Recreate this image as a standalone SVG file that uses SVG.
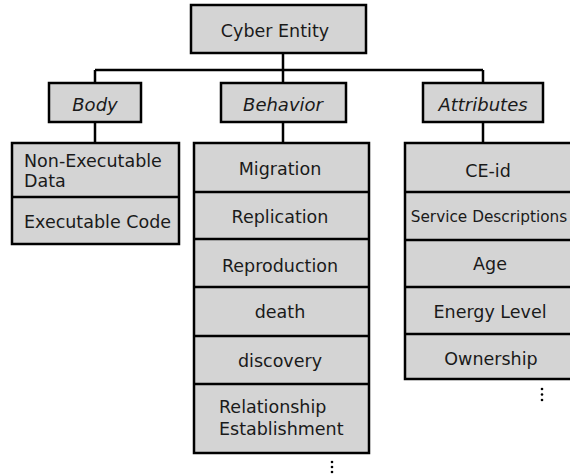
<svg xmlns="http://www.w3.org/2000/svg" width="570" height="475" viewBox="0 0 570 475">
<style>
.box{fill:#d4d4d4;stroke:#000;stroke-width:2.5}
.div{stroke:#000;stroke-width:2.5}
.con{stroke:#000;stroke-width:2.5;fill:none}
text{font-family:"DejaVu Sans","Liberation Sans",sans-serif;fill:#1a1a1a}
.t{font-size:17.5px;text-anchor:middle}
.h{font-size:18px;font-style:italic;text-anchor:middle}
.l{font-size:17.5px;text-anchor:middle}
.b{font-size:17.5px}
.dot{fill:#000}
</style>
<rect width="570" height="475" fill="#fff"/>
<g id="connectors">
<path class="con" d="M283,53V70M95,70H483M95,70V83M283,70V83M483,70V83M95,122V143M283,122V143M483,122V143"/>
</g>
<g id="cyber-entity">
<rect class="box" x="191" y="5" width="175" height="48"/>
<text class="t" x="275" y="37">Cyber Entity</text>
</g>
<g id="body">
<rect class="box" x="49" y="83" width="92" height="39"/>
<text class="h" x="95" y="111">Body</text>
</g>
<g id="behavior">
<rect class="box" x="221" y="83" width="125" height="39"/>
<text class="h" x="283" y="111">Behavior</text>
</g>
<g id="attributes">
<rect class="box" x="423" y="83" width="120" height="39"/>
<text class="h" x="483" y="111">Attributes</text>
</g>
<g id="body-list">
<rect class="box" x="12" y="143" width="167" height="101"/>
<line class="div" x1="12" y1="197" x2="179" y2="197"/>
<text class="b" x="24" y="167">Non-Executable</text>
<text class="b" x="24" y="187">Data</text>
<text class="b" x="24" y="228">Executable Code</text>
</g>
<g id="behavior-list">
<rect class="box" x="194" y="143" width="175" height="310"/>
<path class="div" d="M194,192H369M194,239H369M194,287H369M194,336H369M194,384H369"/>
<text class="l" x="280" y="175">Migration</text>
<text class="l" x="280" y="223">Replication</text>
<text class="l" x="280" y="272">Reproduction</text>
<text class="l" x="280" y="318">death</text>
<text class="l" x="280" y="367">discovery</text>
<text class="b" x="219" y="413">Relationship</text>
<text class="b" x="219" y="435">Establishment</text>
<circle class="dot" cx="332" cy="462" r="1.3"/>
<circle class="dot" cx="332" cy="467" r="1.3"/>
<circle class="dot" cx="332" cy="472" r="1.3"/>
</g>
<g id="attributes-list">
<rect class="box" x="405" y="143" width="172" height="236"/>
<path class="div" d="M405,192H577M405,240H577M405,287H577M405,334H577"/>
<text class="l" x="488" y="177">CE-id</text>
<text class="l" x="489" y="222" style="font-size:15.3px">Service Descriptions</text>
<text class="l" x="490" y="270">Age</text>
<text class="l" x="490" y="318">Energy Level</text>
<text class="l" x="491" y="365">Ownership</text>
<circle class="dot" cx="542" cy="389" r="1.3"/>
<circle class="dot" cx="542" cy="394.5" r="1.3"/>
<circle class="dot" cx="542" cy="400" r="1.3"/>
</g>
</svg>
